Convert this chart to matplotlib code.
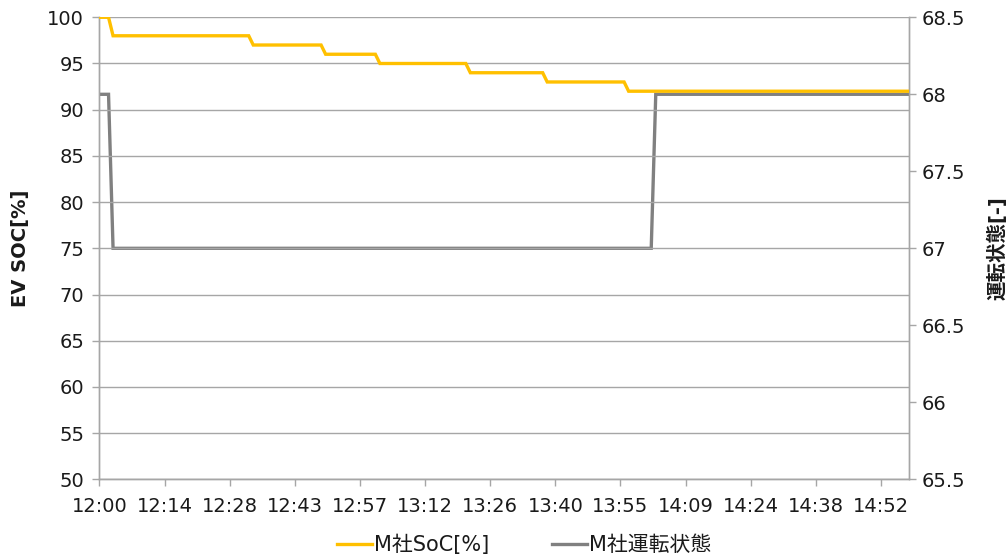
import matplotlib
matplotlib.use("Agg")
import matplotlib.pyplot as plt

plt.rcParams['font.family'] = ['DejaVu Sans', 'Noto Sans CJK JP']

# Minutes after 12:00 at which each level starts/ends (step breakpoints)
soc_minutes = [0, 2, 3, 33, 34, 49, 50, 61, 62, 81, 82, 98, 99, 116, 117, 179]
soc_values = [100, 100, 98, 98, 97, 97, 96, 96, 95, 95, 94, 94, 93, 93, 92, 92]

state_minutes = [0, 2, 3, 122, 123, 179]
state_values = [68, 68, 67, 67, 68, 68]

x_tick_minutes = [0, 14.4, 28.8, 43.2, 57.6, 72, 86.4, 100.8, 115.2, 129.6, 144, 158.4, 172.8]
x_tick_labels = ["12:00", "12:14", "12:28", "12:43", "12:57", "13:12", "13:26",
                 "13:40", "13:55", "14:09", "14:24", "14:38", "14:52"]

left_ticks = [50, 55, 60, 65, 70, 75, 80, 85, 90, 95, 100]
right_ticks = [65.5, 66, 66.5, 67, 67.5, 68, 68.5]

soc_label = "M社SoC[%]"
state_label = "M社運転状態"

orange = "#FFC000"
gray = "#808080"
axis_gray = "#A6A6A6"
text_color = "#1a1a1a"

fig = plt.figure(figsize=(10.08, 5.56), dpi=100)
ax = fig.add_axes([0.0987, 0.1379, 0.9018 - 0.0987, 0.9689 - 0.1379])
ax2 = ax.twinx()

l1, = ax.plot(soc_minutes, soc_values, color=orange, lw=2.4, label=soc_label,
              solid_joinstyle='miter', zorder=3)
l2, = ax2.plot(state_minutes, state_values, color=gray, lw=2.4, label=state_label,
               solid_joinstyle='miter', zorder=3)

ax.set_zorder(2)
ax.patch.set_visible(False)
ax2.set_zorder(1)

ax.set_xlim(0, 179)
ax.set_ylim(50, 100)
ax2.set_ylim(65.5, 68.5)

ax.set_xticks(x_tick_minutes)
ax.set_xticklabels(x_tick_labels)
ax.set_yticks(left_ticks)
ax.set_yticklabels([str(v) for v in left_ticks])
ax2.set_yticks(right_ticks)
ax2.set_yticklabels([f"{v:g}" for v in right_ticks])

ax.yaxis.grid(True, color=axis_gray, lw=1.0)
ax.set_axisbelow(True)

for a in (ax, ax2):
    for s in a.spines.values():
        s.set_color(axis_gray)
        s.set_linewidth(1.0)
    a.spines['top'].set_visible(False)
    a.tick_params(axis='both', colors=axis_gray, labelcolor=text_color,
                  labelsize=14, length=5, width=1.0, direction='out')

ax.tick_params(axis='x', pad=8)
ax.tick_params(axis='y', pad=6)
ax2.tick_params(axis='y', pad=4)

ax.set_ylabel("EV SOC[%]", fontsize=14, fontweight='bold', color=text_color,
              va='center', ha='center')
ax.yaxis.set_label_coords(-0.097, 0.5)
ax2.set_ylabel("運転状態[-]", fontsize=14, fontweight='bold', color=text_color,
               rotation=90, va='center', ha='center')
ax2.yaxis.set_label_coords(1.109, 0.5)

fig.legend(handles=[l1, l2], loc='center', bbox_to_anchor=(0.52, 0.02),
           ncol=2, frameon=False, fontsize=15, handlelength=1.7,
           handletextpad=0.1, columnspacing=3.0, labelcolor=text_color)

fig.savefig("out.png", dpi=100)
